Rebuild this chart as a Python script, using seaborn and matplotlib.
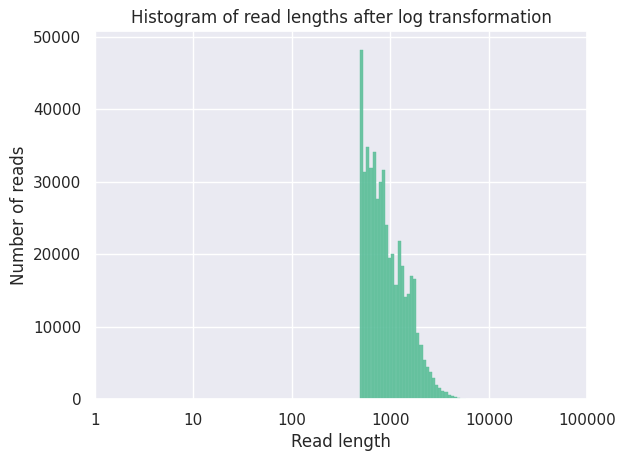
import numpy as np
import pandas as pd
import matplotlib
matplotlib.use("Agg")
import matplotlib.pyplot as plt
import seaborn as sns
from matplotlib.ticker import FixedLocator, FixedFormatter

# Bin counts (log-spaced bins starting near 493 bp)
counts = [48200, 31400, 34800, 31900, 34100, 27600, 30000, 31700, 24000, 19500,
          20000, 15750, 21900, 18350, 14150, 14560, 16990, 16580, 9090, 7440,
          5480, 4430, 3740, 2920, 1920, 1550, 1140, 1000, 590, 450,
          270, 180, 100, 60]
log_start = 2.693
log_width = 0.0317
tick_values = [1, 10, 100, 1000, 10000, 100000]
tick_labels = ["1", "10", "100", "1000", "10000", "100000"]

n = len(counts)
edges_log = log_start + log_width * np.arange(n + 1)
centers = 10 ** ((edges_log[:-1] + edges_log[1:]) / 2)
df = pd.DataFrame({"length": centers, "count": counts})

sns.set_theme(style="darkgrid")
fig, ax = plt.subplots(figsize=(6.27, 4.58), dpi=100)
fig.subplots_adjust(left=0.151, right=0.937, top=0.932, bottom=0.128)

sns.histplot(data=df, x="length", weights="count", log_scale=True,
             binwidth=log_width, binrange=(log_start, log_start + n * log_width),
             color="#5dbf9a", alpha=0.9, edgecolor="#5dbf9a", linewidth=0.3, ax=ax)
ax.set_xlim(1, 100000)
ax.set_ylim(0, 50800)
ax.xaxis.set_major_locator(FixedLocator(tick_values))
ax.xaxis.set_major_formatter(FixedFormatter(tick_labels))
ax.xaxis.set_minor_locator(FixedLocator([]))
ax.set_xlabel("Read length")
ax.set_ylabel("Number of reads")
ax.set_title("Histogram of read lengths after log transformation")

fig.savefig("out.png", dpi=100)
